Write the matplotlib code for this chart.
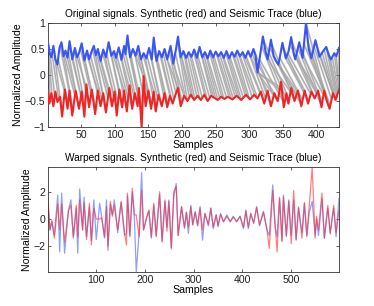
import numpy as np
import matplotlib
matplotlib.use("Agg")
import matplotlib.pyplot as plt

plt.rcParams['font.family'] = ['Liberation Sans', 'DejaVu Sans']

# ---------------- data: original signals (extrema) ----------------
blue_x = [1, 4, 6, 9, 12, 15, 18, 21, 24, 27, 30, 33, 37, 41, 44, 47, 51, 55, 59, 62, 66, 69, 72, 75, 79,
          83, 87, 91, 95, 99, 102, 106, 110, 114, 116, 119, 123, 127, 131, 135, 139, 143, 147, 151, 155,
          158, 162, 166, 170, 174, 178, 183, 187, 191, 194, 198, 202, 206, 210, 214, 218, 222, 226, 230,
          234, 238, 242, 246, 250, 254, 258, 262, 266, 270, 274, 278, 282, 286, 290, 294, 298, 302, 306,
          309, 312, 315, 320, 324, 327, 332, 336, 339, 343, 346, 349, 354, 358, 362, 366, 368, 374, 379,
          384, 388, 392, 398, 404, 409, 414, 418, 421, 426, 429, 433]
blue_y = [0.62, 0.40, 0.34, 0.56, 0.30, 0.20, 0.52, 0.63, 0.36, 0.47, 0.33, 0.65, 0.30, 0.52, 0.34, 0.42,
          0.61, 0.28, 0.47, 0.30, 0.46, 0.56, 0.38, 0.50, 0.27, 0.49, 0.34, 0.63, 0.37, 0.46, 0.33, 0.53,
          0.29, 0.56, 0.40, 0.76, 0.34, 0.50, 0.37, 0.56, 0.30, 0.42, 0.32, 0.52, 0.30, 0.72, 0.27, 0.46,
          0.34, 0.50, 0.30, 0.56, 0.22, 0.50, 0.74, 0.34, 0.46, 0.33, 0.44, 0.35, 0.49, 0.33, 0.54, 0.34,
          0.44, 0.32, 0.47, 0.34, 0.45, 0.36, 0.44, 0.33, 0.46, 0.32, 0.44, 0.35, 0.47, 0.36, 0.44, 0.33,
          0.46, 0.35, 0.50, 0.38, 0.05, 0.30, 0.74, 0.45, 0.30, 0.68, 0.36, 0.28, 0.20, 0.40, 0.62, 0.32,
          0.45, 0.73, 0.40, 0.30, 0.63, 0.33, 1.00, 0.50, 0.32, 0.67, 0.35, 0.45, 0.54, 0.38, 0.30, 0.42,
          0.36, 0.52]

red_x = [1, 3, 6, 9, 12, 15, 19, 22, 26, 30, 33, 37, 42, 47, 51, 55, 58, 62, 66, 71, 75, 79, 83, 87, 92,
         96, 100, 103, 107, 111, 114, 118, 122, 126, 130, 134, 136, 140, 143, 146, 150, 154, 158, 161, 165,
         170, 174, 178, 182, 186, 191, 194, 198, 203, 208, 213, 218, 223, 228, 233, 238, 243, 248, 253,
         258, 263, 268, 275, 281, 288, 295, 301, 307, 312, 317, 322, 327, 332, 337, 342, 347, 351, 355,
         358, 362, 367, 372, 377, 382, 387, 392, 397, 402, 407, 411, 415, 419, 424, 428, 433]
red_y = [-0.30, -0.55, -0.35, -0.60, -0.32, -0.52, -0.42, -0.80, -0.28, -0.65, -0.30, -0.78, -0.30,
         -0.65, -0.32, -0.80, -0.18, -0.62, -0.28, -0.75, -0.30, -0.60, -0.35, -0.72, -0.25, -0.60,
         -0.32, -0.78, -0.28, -0.62, -0.30, -0.70, -0.20, -0.65, -0.35, -0.60, -0.25, -1.00, -0.02,
         -0.60, -0.30, -0.65, -0.32, -0.70, -0.38, -0.60, -0.35, -0.62, -0.40, -0.55, -0.35, -0.25,
         -0.60, -0.40, -0.50, -0.38, -0.48, -0.40, -0.48, -0.38, -0.50, -0.40, -0.44, -0.48, -0.42,
         -0.46, -0.42, -0.47, -0.40, -0.48, -0.38, -0.47, -0.38, -0.45, -0.32, -0.55, -0.30, -0.60,
         -0.35, -0.50, -0.13, -0.62, -0.35, -0.55, -0.25, -0.50, -0.30, -0.60, -0.30, -0.55, -0.32,
         -0.45, -0.30, -0.62, -0.30, -0.50, -0.65, -0.35, -0.48, -0.28]

# warping path pairs (seismic index -> synthetic index)
path_blue = [1, 1, 1, 4, 7, 10, 13, 16, 19, 22, 25, 28, 31, 34, 37, 40, 43, 46, 49, 52, 55, 58, 61, 64,
             67, 70, 73, 76, 79, 82, 85, 88, 91, 94, 97, 100, 103, 106, 109, 112, 115, 118, 121, 124,
             127, 130, 133, 136, 139, 142, 145, 148, 151, 154, 157, 160, 163, 166, 169, 172, 175, 178,
             181, 184, 187, 190, 193, 196, 199, 202, 205, 208, 211, 214, 217, 220, 223, 226, 229, 232,
             235, 238, 241, 244, 247, 250, 253, 256, 259, 262, 265, 268, 271, 274, 277, 280, 283, 286,
             289, 292, 295, 298, 301, 304, 307, 310, 312, 312, 312, 315, 318, 321, 324, 327, 330, 333,
             336, 339, 342, 345, 348, 351, 354, 357, 360, 363, 366, 369, 372, 375, 378, 381, 384, 387,
             390, 393, 396, 399, 402, 405, 408, 411, 414, 417, 420, 423, 426, 429, 433]
path_red = [1, 4, 7, 11, 17, 22, 27, 31, 34, 38, 41, 44, 47, 50, 53, 56, 59, 62, 65, 68, 72, 75, 78, 81,
            84, 87, 90, 93, 96, 99, 102, 105, 108, 111, 114, 117, 120, 123, 126, 129, 132, 135, 138, 141,
            143, 146, 149, 152, 155, 158, 161, 164, 167, 170, 173, 176, 179, 182, 185, 188, 191, 194,
            197, 200, 203, 205, 208, 211, 214, 216, 219, 222, 226, 230, 234, 238, 241, 244, 247, 250,
            253, 256, 259, 262, 266, 270, 273, 276, 279, 282, 285, 288, 291, 294, 297, 300, 304, 308,
            312, 316, 320, 324, 328, 332, 336, 340, 342, 345, 348, 350, 352, 355, 358, 361, 364, 367,
            370, 373, 376, 379, 382, 385, 388, 391, 394, 397, 400, 403, 406, 408, 410, 412, 414, 416,
            418, 420, 422, 424, 425, 426, 427, 428, 429, 430, 431, 432, 433, 433, 433]

# ---------------- data: warped signals (extrema) ----------------
warp_x = [1, 5, 9, 14, 21, 25, 29, 35, 43, 48, 53, 59, 62, 66, 72, 75, 80, 86, 90, 95, 100, 107, 111,
          117, 121, 124, 129, 133, 137, 144, 151, 158, 162, 164, 169, 174, 178, 182, 188, 193, 197, 203,
          208, 213, 218, 223, 230, 235, 241, 245, 249, 254, 259, 264, 268, 275, 281, 285, 289, 294, 298,
          303, 308, 313, 318, 323, 330, 335, 340, 346, 350, 355, 361, 368, 375, 381, 388, 395, 402, 407,
          412, 417, 423, 429, 435, 443, 450, 455, 462, 467, 471, 476, 481, 484, 490, 495, 500, 505, 510,
          515, 522, 527, 532, 537, 543, 549, 552, 556, 563, 568, 575, 580, 587, 592, 598]
warp_blue = [1.0, -0.8, -0.2, -1.2, 1.75, -2.4, 1.9, -2.5, 0.65, 1.4, -1.4, 0.8, -2.5, 2.2, -0.8, 1.6,
             -1.3, 0.9, -1.6, 1.4, -1.5, 1.15, 0.2, -1.4, 1.4, -2.3, 1.1, 0.3, 1.4, -1.0, 1.2, -1.2, -1.0,
             1.7, -1.3, 2.0, 0.3, -3.85, -1.0, 3.4, -0.8, 0.0, 0.6, -1.4, 1.0, -1.2, 1.8, -1.6, 1.3, -0.6,
             1.4, -2.1, 1.6, 2.6, -1.2, 0.9, -0.7, 0.5, -1.05, 1.0, -0.45, 0.55, -0.5, 0.9, -1.55, 0.4,
             -0.5, 0.8, -0.7, 0.3, -0.55, 0.4, -0.2, 0.3, -0.2, 0.2, -0.2, 0.2, -0.7, 0.65, -0.7, 0.4,
             -0.3, 0.9, -0.5, 0.55, -0.8, -1.2, 2.5, -0.6, -1.3, 1.6, -1.65, 1.75, -1.3, 1.4, -1.2, 1.4,
             -1.55, 0.8, -1.0, 1.15, -1.3, 0.5, 1.3, -1.2, 0.0, -1.2, 1.5, -1.4, 0.8, -1.0, 0.8, -1.3, 1.5]
warp_red = [1.5, -0.8, -0.1, -1.4, 1.1, -0.8, 1.1, -1.7, 0.6, 1.0, -1.3, 1.0, -1.3, 1.4, -0.8, 1.2,
            -1.5, 1.15, -1.9, 0.8, 0.0, 0.0, 0.1, -1.3, 0.9, -2.0, 1.3, 0.2, 1.0, -0.8, 1.3, -1.0, -1.9,
            1.9, -1.2, 2.25, 0.3, 0.3, -1.3, 2.1, -0.8, 0.1, 0.65, -1.3, 1.15, -1.3, 2.0, -1.7, 1.4, -0.9,
            1.3, -2.2, 2.0, 2.4, -1.2, 0.9, -0.6, 0.5, -0.6, 0.9, -0.4, 0.5, -0.45, 0.8, -0.8, 0.4, -0.4,
            0.8, -0.6, 0.3, -0.5, 0.35, -0.2, 0.2, -0.2, 0.15, -0.2, 0.2, -0.6, 0.6, -0.6, 0.4, -0.3,
            0.85, -0.4, 0.5, -0.7, -2.15, 2.1, -0.5, -2.4, 1.5, -1.6, 1.6, -1.2, 1.3, -1.8, 2.1, -1.5,
            0.9, -1.4, 1.2, -1.2, 1.0, 3.8, -1.4, 0.2, -0.8, 1.9, -1.4, 1.0, -1.1, 1.0, -1.0, 0.65]

top_xticks = [50, 100, 150, 200, 250, 300, 350, 400]
top_yticks = [-1, -0.5, 0, 0.5, 1]
top_yticklabels = ['\u22121', '\u22120.5', '0', '0.5', '1']
bot_xticks = [100, 200, 300, 400, 500]
bot_yticks = [-2, 0, 2]
bot_yticklabels = ['\u22122', '0', '2']

title_top = 'Original signals. Synthetic (red) and Seismic Trace (blue)'
title_bot = 'Warped signals. Synthetic (red) and Seismic Trace (blue)'

# ---------------- figure ----------------
W, H = 374, 306
fig = plt.figure(figsize=(W / 100, H / 100), dpi=100)
FS = 7.3
FST = 7.6

def style(ax):
    ax.tick_params(direction='in', top=True, right=True, length=2.5, width=0.5,
                   labelsize=FST, pad=2, colors='#222222')
    for sp in ax.spines.values():
        sp.set_linewidth(0.6)
        sp.set_color('#333333')

ax1 = fig.add_axes([48 / W, 1 - 127 / H, 291 / W, 104 / H])
bx = np.array(blue_x, float)
by = np.array(blue_y, float)
rx = np.array(red_x, float)
ry = np.array(red_y, float)
pb = np.array(path_blue, float)
pr = np.array(path_red, float)
yb = np.interp(pb, bx, by)
yr = np.interp(pr, rx, ry)
for x0, y0, x1, y1 in zip(pb, yb, pr, yr):
    ax1.plot([x0, x1], [y0, y1], color='#c6c6c6', lw=1.4, zorder=1,
             solid_capstyle='butt')
for x0, y0, x1, y1 in zip(pb, yb, pr, yr):
    ax1.plot([x0, x1], [y0, y1], color='#9a9a9a', lw=0.35, zorder=2)
ax1.plot(bx, by, color='#3a55f5', lw=1.5, zorder=3, solid_joinstyle='round')
ax1.plot(rx, ry, color='#f02424', lw=1.5, zorder=3, solid_joinstyle='round')
ax1.set_xlim(1, 433)
ax1.set_ylim(-1, 1)
ax1.set_xticks(top_xticks)
ax1.set_yticks(top_yticks)
ax1.set_yticklabels(top_yticklabels)
ax1.set_title(title_top, fontsize=FS, pad=4)
ax1.set_xlabel('Samples', fontsize=FST, labelpad=0)
ax1.set_ylabel('Normalized Amplitude', fontsize=FST)
ax1.yaxis.set_label_coords(-0.086, 0.5)
style(ax1)

ax2 = fig.add_axes([48 / W, 1 - 272 / H, 291 / W, 105 / H])
ax2.plot(warp_x, warp_blue, color='#4060ff', lw=0.9, alpha=0.6)
ax2.plot(warp_x, warp_red, color='#ff2a2a', lw=0.9, alpha=0.6)
ax2.set_xlim(1, 598)
ax2.set_ylim(-3.88, 3.81)
ax2.set_xticks(bot_xticks)
ax2.set_yticks(bot_yticks)
ax2.set_yticklabels(bot_yticklabels)
ax2.set_title(title_bot, fontsize=FS, pad=4)
ax2.set_xlabel('Samples', fontsize=FST, labelpad=0)
ax2.set_ylabel('Normalized Amplitude', fontsize=FST)
ax2.yaxis.set_label_coords(-0.055, 0.5)
style(ax2)

fig.savefig('out.png', dpi=100)
